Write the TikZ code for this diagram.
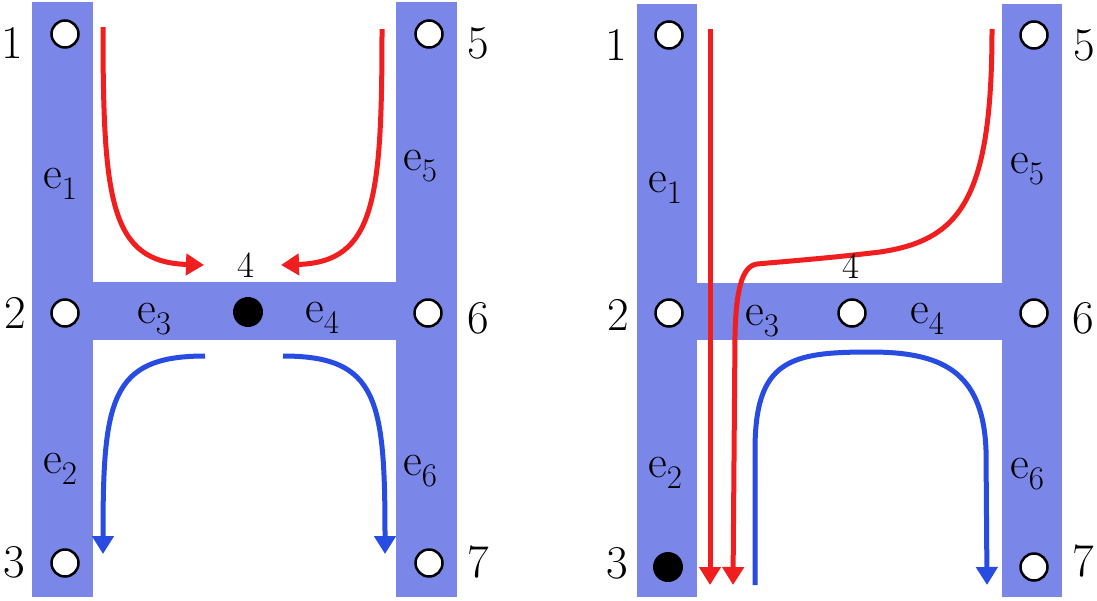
\documentclass[tikz,border=0pt]{standalone}
\usetikzlibrary{arrows.meta}
\definecolor{barblue}{RGB}{122,134,232}
\definecolor{flowred}{RGB}{240,30,30}
\definecolor{flowblue}{RGB}{40,75,225}
\newcommand{\elab}[1]{e\raisebox{-11pt}{\fontsize{33}{33}\selectfont #1}}
\begin{document}
\begin{tikzpicture}[x=1pt,y=-1pt,
  bar/.style={fill=barblue,draw=none},
  portopen/.style={circle,draw=black,fill=white,line width=2.5pt,minimum size=27pt,inner sep=0pt},
  portfull/.style={circle,fill=black,draw=none,minimum size=30pt,inner sep=0pt},
  numlab/.style={font=\fontsize{47}{47}\selectfont,inner sep=0pt},
  midlab/.style={font=\fontsize{37}{37}\selectfont,inner sep=0pt,anchor=base},
  elabel/.style={font=\fontsize{46}{46}\selectfont,inner sep=0pt,anchor=base west},
  redflow/.style={draw=flowred,line width=5pt,-{Triangle[length=18pt,width=21pt]}},
  blueflow/.style={draw=flowblue,line width=5pt,-{Triangle[length=18pt,width=21pt]}}]
\useasboundingbox (0,0) rectangle (1097,600);
\fill[white] (0,0) rectangle (1097,600);

% ---------- left H ----------
\fill[bar] (32,2) rectangle (93,597);
\fill[bar] (396,2) rectangle (457,597);
\fill[bar] (93,282) rectangle (396,340);

% ---------- right H ----------
\fill[bar] (637,4) rectangle (697,597);
\fill[bar] (1002,4) rectangle (1062,597);
\fill[bar] (697,283) rectangle (1002,340);

% ---------- flows, left H ----------
\coordinate (la1) at (103,27);   \coordinate (la2) at (204,265);
\coordinate (lb1) at (382,29);   \coordinate (lb2) at (281,265);
\coordinate (lc1) at (205,356);  \coordinate (lc2) at (103,554);
\coordinate (ld1) at (283,356);  \coordinate (ld2) at (385,554);
\draw[redflow] (la1) .. controls (103,200) and (110,262) .. (la2);
\draw[redflow] (lb1) .. controls (382,200) and (375,262) .. (lb2);
\draw[blueflow] (lc1) .. controls (110,356) and (103,400) .. (lc2);
\draw[blueflow] (ld1) .. controls (378,356) and (385,400) .. (ld2);

% ---------- flows, right H ----------
\coordinate (ra1) at (710,29);   \coordinate (ra2) at (710,585);
\coordinate (rb1) at (992,29);   \coordinate (rb2) at (733,585);
\coordinate (rc1) at (755,585);  \coordinate (rc2) at (987,585);
\draw[redflow] (ra1) -- (ra2);
\draw[redflow] (rb1) .. controls (992,200) and (960,240) .. (880,252)
   .. controls (830,258) and (790,261) .. (757,264)
   .. controls (742,266) and (736,290) .. (735,335) -- (rb2);
\draw[blueflow] (rc1) -- (755,450) .. controls (755,360) and (790,352) .. (870,352)
   .. controls (940,352) and (983,370) .. (986,450) -- (rc2);

% ---------- ports, left H ----------
\node[portopen] (l1) at (65,34) {};
\node[portopen] (l2) at (65,313) {};
\node[portopen] (l3) at (65,563) {};
\node[portfull] (l4) at (248,312) {};
\node[portopen] (l5) at (429,34) {};
\node[portopen] (l6) at (428,313) {};
\node[portopen] (l7) at (429,563) {};

% ---------- ports, right H ----------
\node[portopen] (r1) at (669,35) {};
\node[portopen] (r2) at (669,313) {};
\node[portfull] (r3) at (668,567) {};
\node[portopen] (r4) at (852,313) {};
\node[portopen] (r5) at (1034,35) {};
\node[portopen] (r6) at (1034,313) {};
\node[portopen] (r7) at (1034,567) {};

% ---------- port numbers, left H ----------
\node[numlab,anchor=base east] (ln1) at (23,58) {1};
\node[numlab,anchor=base east] (ln2) at (26,328) {2};
\node[numlab,anchor=base east] (ln3) at (25,577) {3};
\node[midlab] (ln4) at (246,277) {4};
\node[numlab,anchor=base west] (ln5) at (467,58) {5};
\node[numlab,anchor=base west] (ln6) at (467,333) {6};
\node[numlab,anchor=base west] (ln7) at (467,577) {7};

% ---------- port numbers, right H ----------
\node[numlab,anchor=base east] (rn1) at (627,60) {1};
\node[numlab,anchor=base east] (rn2) at (629,330) {2};
\node[numlab,anchor=base east] (rn3) at (628,578) {3};
\node[midlab] (rn4) at (851,278) {4};
\node[numlab,anchor=base west] (rn5) at (1073,60) {5};
\node[numlab,anchor=base west] (rn6) at (1072,333) {6};
\node[numlab,anchor=base west] (rn7) at (1072,576) {7};

% ---------- edge labels, left H ----------
\node[elabel] (le1) at (43,188) {\elab{1}};
\node[elabel] (le2) at (43,473) {\elab{2}};
\node[elabel] (le3) at (137,323) {\elab{3}};
\node[elabel] (le4) at (305,322) {\elab{4}};
\node[elabel] (le5) at (403,170) {\elab{5}};
\node[elabel] (le6) at (403,475) {\elab{6}};

% ---------- edge labels, right H ----------
\node[elabel] (re1) at (648,192) {\elab{1}};
\node[elabel] (re2) at (648,477) {\elab{2}};
\node[elabel] (re3) at (745,325) {\elab{3}};
\node[elabel] (re4) at (910,323) {\elab{4}};
\node[elabel] (re5) at (1010,173) {\elab{5}};
\node[elabel] (re6) at (1010,478) {\elab{6}};
\end{tikzpicture}
\end{document}
